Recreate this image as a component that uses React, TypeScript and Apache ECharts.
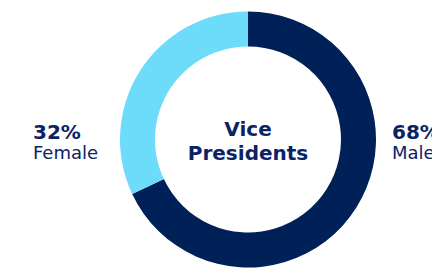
import React, { useEffect, useRef } from "react";
import * as echarts from "echarts";

const categories = ["Male", "Female"];
const values = [68, 32];
const colors = ["#002157", "#6ddbfa"];
const centerTitle = "Vice\nPresidents";

export default function App() {
  const ref = useRef<HTMLDivElement>(null);
  useEffect(() => {
    document.body.style.margin = "0";
    const chart = echarts.init(ref.current!, null, { renderer: "svg" });
    const labelX = [392, 33];
    const graphics: any[] = [];
    categories.forEach((c, i) => {
      graphics.push({
        type: "text",
        x: labelX[i],
        y: 131.5,
        style: {
          text: values[i] + "%",
          font: "bold 20px 'DejaVu Sans'",
          fill: "#0b2265",
          align: "left",
          verticalAlign: "middle",
        },
      });
      graphics.push({
        type: "text",
        x: labelX[i],
        y: 152.5,
        style: {
          text: c,
          font: "18px 'DejaVu Sans'",
          fill: "#0b2265",
          align: "left",
          verticalAlign: "middle",
        },
      });
    });
    graphics.push({
      type: "text",
      x: 248,
      y: 141,
      style: {
        text: centerTitle,
        font: "bold 20px 'DejaVu Sans'",
        lineHeight: 24,
        fill: "#0b2265",
        align: "center",
        verticalAlign: "middle",
      },
    });
    chart.setOption({
      animation: false,
      graphic: graphics,
      series: [
        {
          type: "pie",
          center: [248, 139.5],
          radius: [93, 128],
          startAngle: 90,
          clockwise: true,
          label: { show: false },
          labelLine: { show: false },
          emphasis: { disabled: true },
          itemStyle: { borderWidth: 0 },
          data: categories.map((c, i) => ({
            name: c,
            value: values[i],
            itemStyle: { color: colors[i] },
          })),
        },
      ],
    });
    return () => chart.dispose();
  }, []);
  return <div ref={ref} style={{ width: 432, height: 271 }} />;
}
